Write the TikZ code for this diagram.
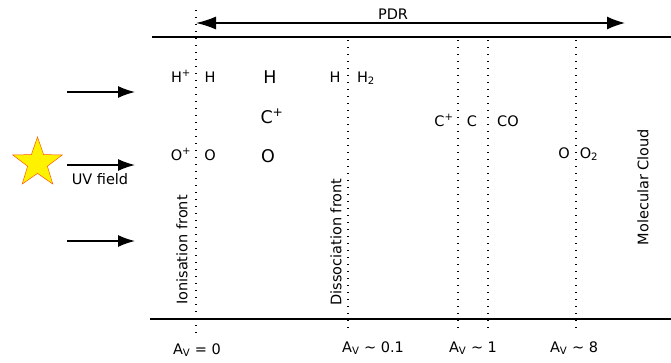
\documentclass[tikz,border=0pt]{standalone}
\usepackage{fontspec}
\setmainfont{DejaVu Sans}
\usetikzlibrary{arrows.meta,shapes.geometric}
\begin{document}
\begin{tikzpicture}[x=1pt,y=-1pt,
  lbl/.style={font=\fontsize{14.5}{17}\selectfont, inner sep=0pt, anchor=base},
  big/.style={font=\fontsize{17.5}{20}\selectfont, inner sep=0pt, anchor=base},
  rot/.style={font=\fontsize{14.5}{17}\selectfont, inner sep=0pt, rotate=90},
  edge/.style={line width=1.6pt},
  front/.style={line width=1.5pt, dash pattern=on 1.4pt off 5.6pt},
  uvarrow/.style={line width=1.4pt, -{Latex[length=17pt,width=12pt]}},
  pdrarrow/.style={line width=1.4pt, {Latex[length=20pt,width=13pt]}-{Latex[length=18pt,width=13pt]}}
]
\useasboundingbox (0,0) rectangle (671,362);
% boundary lines
\coordinate (tl) at (152,37);
\coordinate (tr) at (671,37);
\coordinate (bl) at (150,319);
\coordinate (br) at (671,319);
\draw[edge] (tl) -- (tr);
\draw[edge] (bl) -- (br);
% fronts
\coordinate (f1t) at (196,10);  \coordinate (f1b) at (196,334);
\coordinate (f2t) at (348,40);  \coordinate (f2b) at (348,333);
\coordinate (f3t) at (458,40);  \coordinate (f3b) at (458,333);
\coordinate (f4t) at (488,40);  \coordinate (f4b) at (488,333);
\coordinate (f5t) at (576,40);  \coordinate (f5b) at (576,333);
\foreach \i in {1,...,5} \draw[front] (f\i t) -- (f\i b);
% PDR arrow
\coordinate (pl) at (196,23);
\coordinate (pr) at (625,23);
\draw[pdrarrow] (pl) -- (pr);
\node[lbl] (pdr) at (393,19) {PDR};
% star and UV arrows
\node[star, star points=5, star point ratio=2.5, minimum size=52pt, inner sep=0pt,
  fill=yellow, draw=orange!70!red, line width=0.5pt] (star) at (37.5,163) {};
\coordinate (a1s) at (67,92);  \coordinate (a1e) at (135,92);
\coordinate (a2s) at (67,165); \coordinate (a2e) at (135,165);
\coordinate (a3s) at (67,241); \coordinate (a3e) at (135,241);
\draw[uvarrow] (a1s) -- (a1e);
\draw[uvarrow] (a2s) -- (a2e);
\draw[uvarrow] (a3s) -- (a3e);
\node[lbl] (uv) at (100,184) {UV field};
% species
\node[lbl] (hp) at (181,82) {H\textsuperscript{+}};
\node[lbl] (h1) at (210,82) {H};
\node[big] (h2) at (270,83) {H};
\node[big] (cp1) at (272,123) {C\textsuperscript{+}};
\node[lbl] (op) at (181,160) {O\textsuperscript{+}};
\node[lbl] (o1) at (210,160) {O};
\node[big] (o2) at (268,162) {O};
\node[lbl] (h3) at (335,82) {H};
\node[lbl] (h2m) at (366,82) {H\textsubscript{2}};
\node[lbl] (cp2) at (444,126) {C\textsuperscript{+}};
\node[lbl] (c) at (472,126) {C};
\node[lbl] (co) at (508,126) {CO};
\node[lbl] (o3) at (564,158) {O};
\node[lbl] (o2m) at (589,158) {O\textsubscript{2}};
% rotated labels
\node[rot] (ion) at (182,250) {Ionisation front};
\node[rot] (dis) at (336,242) {Dissociation front};
\node[rot] (mol) at (643,187) {Molecular Cloud};
% extinction
\node[lbl] (av0) at (197,354) {A\textsubscript{V} = 0};
\node[lbl] (av1) at (373,352) {A\textsubscript{V} \textasciitilde{} 0.1};
\node[lbl] (av2) at (473,352) {A\textsubscript{V} \textasciitilde{} 1};
\node[lbl] (av3) at (574,352) {A\textsubscript{V} \textasciitilde{} 8};
\end{tikzpicture}
\end{document}
